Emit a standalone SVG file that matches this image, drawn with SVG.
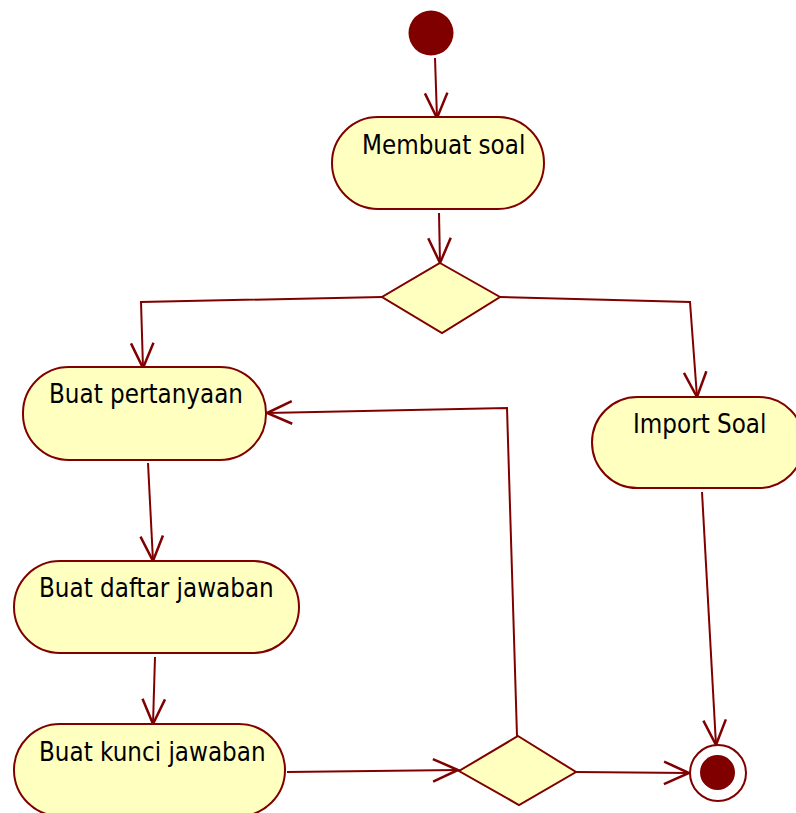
<svg xmlns="http://www.w3.org/2000/svg" width="796" height="813" viewBox="0 0 796 813">
<style>
.act{fill:#ffffc0;stroke:#800000;stroke-width:2}
.lbl{font-family:"DejaVu Sans Condensed","DejaVu Sans","Liberation Sans",sans-serif;font-stretch:condensed;font-size:25.7px;fill:#000}
.edge{fill:none;stroke:#800000;stroke-width:2}
</style>
<defs>
<marker id="arr" markerUnits="userSpaceOnUse" markerWidth="30" markerHeight="30" viewBox="-22 -11 24 22" refX="0" refY="0" orient="auto">
<path d="M-20,-9 L0,0 L-20,9" fill="none" stroke="#800000" stroke-width="2"/>
</marker>
</defs>
<rect width="796" height="813" fill="#fff"/>
<g id="edges">
<path class="edge" d="M435,58 L437,118" marker-end="url(#arr)"/>
<path class="edge" d="M439,213 L440,263" marker-end="url(#arr)"/>
<path class="edge" d="M382,297 L141,302 L143,368" marker-end="url(#arr)"/>
<path class="edge" d="M500,297 L690,302 L697,397" marker-end="url(#arr)"/>
<path class="edge" d="M148,463 L153,561" marker-end="url(#arr)"/>
<path class="edge" d="M155,657 L153,724" marker-end="url(#arr)"/>
<path class="edge" d="M287,772 L458,770" marker-end="url(#arr)"/>
<path class="edge" d="M517,736 L507,408 L267,413" marker-end="url(#arr)"/>
<path class="edge" d="M576,772 L689,773" marker-end="url(#arr)"/>
<path class="edge" d="M702,492 L716,745" marker-end="url(#arr)"/>
</g>
<g id="start"><circle cx="431" cy="33" r="22.5" fill="#800000"/></g>
<g id="membuat-soal"><rect class="act" x="332" y="117" width="212" height="92" rx="46"/><text class="lbl" x="362" y="154">Membuat soal</text></g>
<g id="decision1"><polygon class="act" points="440,263 500,297 442,333 382,297"/></g>
<g id="buat-pertanyaan"><rect class="act" x="23" y="367" width="243" height="93" rx="46"/><text class="lbl" x="49" y="403">Buat pertanyaan</text></g>
<g id="import-soal"><rect class="act" x="592" y="397" width="212" height="91" rx="45.5"/><text class="lbl" x="633" y="433">Import Soal</text></g>
<g id="buat-daftar-jawaban"><rect class="act" x="14" y="561" width="285" height="92" rx="46"/><text class="lbl" x="39" y="597">Buat daftar jawaban</text></g>
<g id="buat-kunci-jawaban"><rect class="act" x="14" y="724" width="271" height="92" rx="46"/><text class="lbl" x="39" y="761">Buat kunci jawaban</text></g>
<g id="decision2"><polygon class="act" points="518,736 576,772 519,805 459,771"/></g>
<g id="final"><circle cx="718" cy="773" r="28" fill="#fff" stroke="#800000" stroke-width="2"/><circle cx="717.5" cy="772.5" r="17.5" fill="#800000"/></g>
</svg>
